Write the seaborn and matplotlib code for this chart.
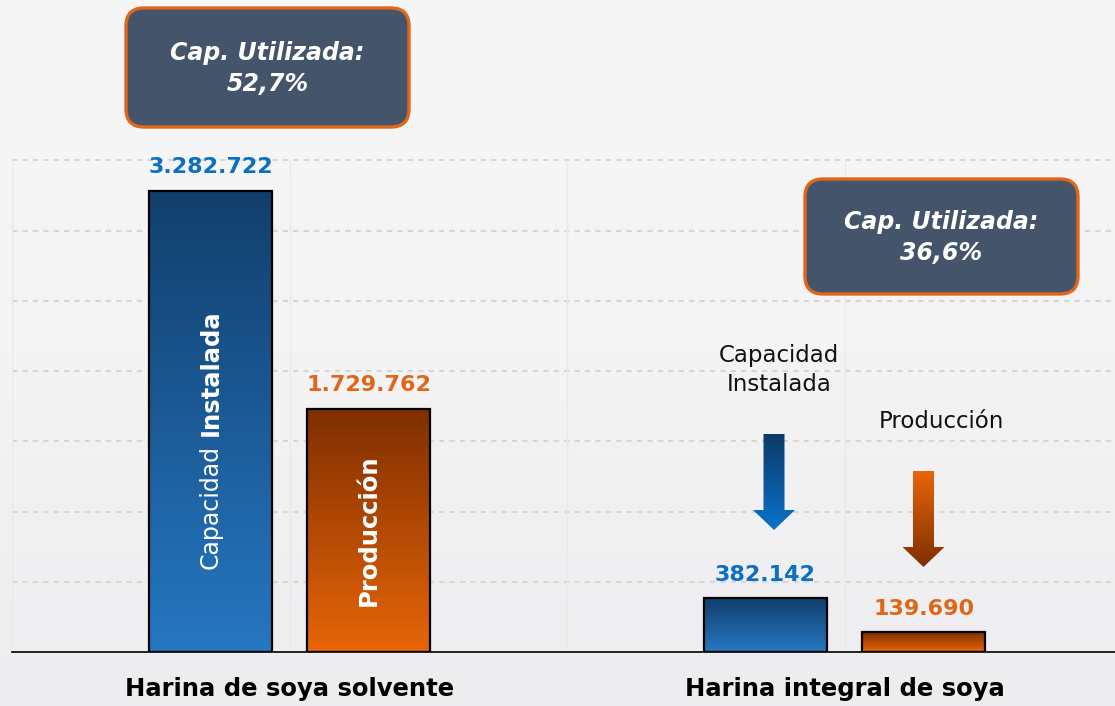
import numpy as np
import pandas as pd
import matplotlib
matplotlib.use("Agg")
import matplotlib.pyplot as plt
import seaborn as sns
from matplotlib.patches import FancyBboxPatch, Polygon
from matplotlib.colors import LinearSegmentedColormap

# ---------------- data ----------------
categorias = ["Harina de soya solvente", "Harina integral de soya"]
series = ["Capacidad Instalada", "Producción"]
capacidad = [3282722, 382142]
produccion = [1729762, 139690]
cap_utilizada = ["52,7%", "36,6%"]
grid_ticks = [0, 500000, 1000000, 1500000, 2000000, 2500000, 3000000, 3500000]

df = pd.DataFrame({
    "categoria": categorias * 2,
    "serie": [series[0]] * len(categorias) + [series[1]] * len(categorias),
    "valor": capacidad + produccion,
})

W, H = 1115, 706
AX_BOTTOM_PX = 652
UNITS_PER_PX = 7120

sns.set_theme(style="white")
plt.rcParams["font.family"] = ["DejaVu Sans"]

fig = plt.figure(figsize=(W / 100, H / 100), dpi=100)
fig.patch.set_facecolor("#f4f4f4")

# background gradient
bg = fig.add_axes([0, 0, 1, 1], zorder=-10)
grad = np.linspace(0, 1, 256).reshape(-1, 1)
bg.imshow(grad, aspect="auto", extent=[0, 1, 0, 1], origin="upper",
          cmap=LinearSegmentedColormap.from_list("bg", ["#f6f6f6", "#f4f4f4", "#ededf0"]))
bg.axis("off")

# main axes
ax = fig.add_axes([12 / W, (H - AX_BOTTOM_PX) / H, 1110 / W, AX_BOTTOM_PX / H])
ax.set_facecolor("none")

sns.barplot(data=df, x="categoria", y="valor", hue="serie", order=categorias,
            hue_order=series, palette=["#1f5f9f", "#c04d05"], width=0.57, gap=0.22,
            edgecolor="black", linewidth=1.6, legend=False, ax=ax, zorder=3)

ymax = AX_BOTTOM_PX * UNITS_PER_PX
grad_colors = [("#113f6c", "#2677c2"), ("#7f2f00", "#e8650a")]
label_colors = ["#0b6fc4", "#e0661a"]

for cont, (ctop, cbot), lcol in zip(ax.containers, grad_colors, label_colors):
    cmap = LinearSegmentedColormap.from_list("g", [ctop, cbot])
    for bar in cont:
        x, w, h = bar.get_x(), bar.get_width(), bar.get_height()
        im = ax.imshow(grad, extent=[x, x + w, 0, h], origin="upper",
                       aspect="auto", cmap=cmap, zorder=2.5)
        im.set_clip_path(bar)
        bar.set_facecolor("none")
        ax.annotate(f"{int(h):,}".replace(",", "."), (x + w / 2, h),
                    xytext=(0, 17), textcoords="offset points",
                    ha="center", va="center", fontsize=16, fontweight="bold",
                    color=lcol, zorder=6)

ax.set_xlim(-0.5, 1.5)
ax.set_ylim(0, ymax)

# grid
ax.set_yticks(grid_ticks)
ax.set_axisbelow(True)
ax.yaxis.grid(True, color="#d6d6d6", linestyle=(0, (2.5, 2.5)), linewidth=1.5)
ax.tick_params(axis="y", length=0, labelleft=False)
ax.vlines([-0.5, 0, 0.5, 1, 1.5], 0, grid_ticks[-1], color="#e9e9e9", lw=1, zorder=1)

sns.despine(ax=ax, left=True)
ax.spines["bottom"].set_color("black")
ax.spines["bottom"].set_linewidth(1.2)
ax.set_xlabel("")
ax.set_ylabel("")
ax.tick_params(axis="x", which="major", length=0, pad=18, labelsize=17.5, labelcolor="black")
for lbl in ax.get_xticklabels():
    lbl.set_fontweight("bold")
ax.set_xticks([-0.5, 0.5, 1.5], minor=True)
ax.tick_params(axis="x", which="minor", direction="inout", length=13, width=1.2, color="black")

# labels inside the big bars
b_cap = ax.containers[0][0]
b_pro = ax.containers[1][0]
def px2val(py):
    return (AX_BOTTOM_PX - py) * UNITS_PER_PX
cx = b_cap.get_x() + b_cap.get_width() / 2
ax.text(cx, px2val(507), "Capacidad", rotation=90, ha="center", va="center",
        color="white", fontsize=17, zorder=6)
ax.text(cx, px2val(373), "Instalada", rotation=90, ha="center", va="center",
        color="white", fontsize=17.5, fontweight="bold", zorder=6)
ax.text(b_pro.get_x() + b_pro.get_width() / 2, px2val(530), "Producción", rotation=90,
        ha="center", va="center", color="white", fontsize=17.5, fontweight="bold", zorder=6)

# overlay in pixel coordinates (top-down)
ov = fig.add_axes([0, 0, 1, 1], zorder=5)
ov.set_xlim(0, W)
ov.set_ylim(H, 0)
ov.axis("off")

boxes = [(126, 8, 409, 127), (805, 179, 1078, 294)]
for (x0, y0, x1, y1), txt in zip(boxes, cap_utilizada):
    ov.add_patch(FancyBboxPatch((x0, y0), x1 - x0, y1 - y0,
                                boxstyle="round,pad=0,rounding_size=18",
                                facecolor="#44546a", edgecolor="#e0661a", linewidth=2.4))
    ov.text((x0 + x1) / 2, (y0 + y1) / 2 + 1, f"Cap. Utilizada:\n{txt}", ha="center",
            va="center", color="white", fontsize=17, fontweight="bold",
            fontstyle="italic", linespacing=1.35)

def arrow(cx, top, neck, tip, ctop, cbot):
    sw, hw = 10.5, 21
    pts = [(cx - sw, top), (cx + sw, top), (cx + sw, neck), (cx + hw, neck),
           (cx, tip), (cx - hw, neck), (cx - sw, neck)]
    poly = Polygon(pts, closed=True, facecolor="none", edgecolor="none")
    ov.add_patch(poly)
    im = ov.imshow(grad, extent=[cx - hw, cx + hw, tip, top], origin="upper",
                   aspect="auto", cmap=LinearSegmentedColormap.from_list("a", [ctop, cbot]))
    im.set_clip_path(poly)

arrow(774, 434, 510, 530, "#0d3a68", "#0a73cc")
arrow(923.5, 471, 547, 567, "#e8650a", "#7f2f00")
ov.set_xlim(0, W)
ov.set_ylim(H, 0)

ov.text(779, 370, "Capacidad\nInstalada", ha="center", va="center", fontsize=16.5,
        color="#111111", linespacing=1.3)
ov.text(941, 421, "Producción", ha="center", va="center", fontsize=16.5, color="#111111")

fig.savefig("out.png", dpi=100, facecolor=fig.get_facecolor())
